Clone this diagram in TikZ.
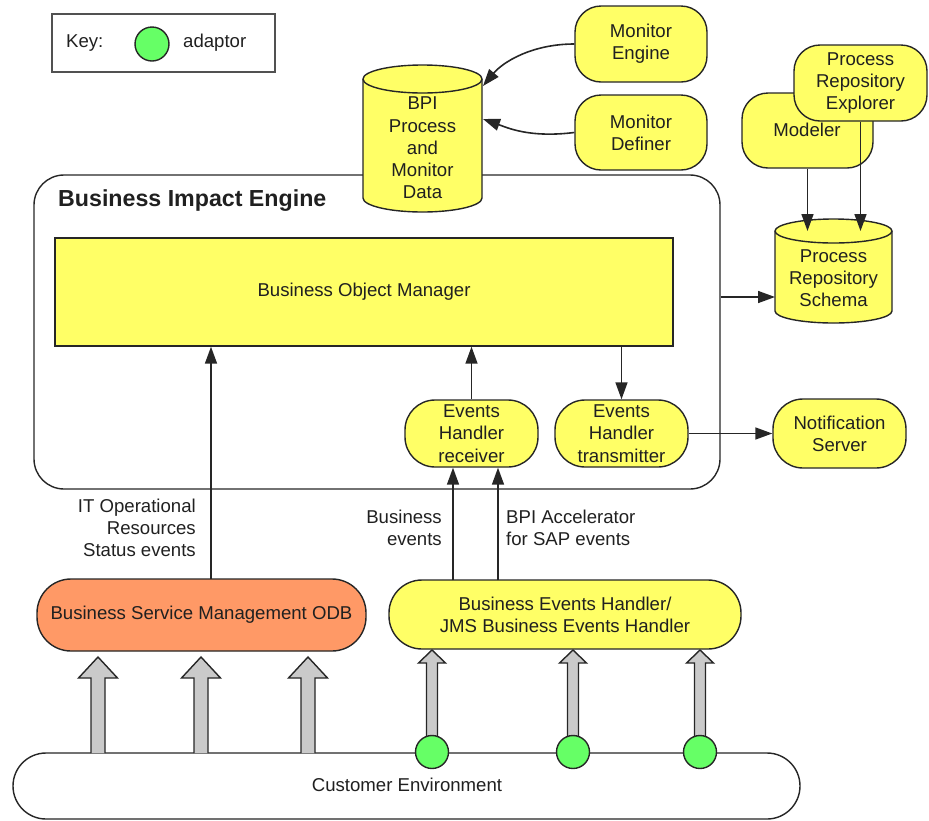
\documentclass[tikz,border=0pt]{standalone}
\usepackage{fontspec}
\setmainfont{Liberation Sans}
\usetikzlibrary{arrows.meta,calc}
\definecolor{yel}{HTML}{FFFF66}
\definecolor{org}{HTML}{FF9966}
\definecolor{grn}{HTML}{66FF66}
\definecolor{gry}{HTML}{CACACA}
\definecolor{ln}{HTML}{262626}
\definecolor{txt}{HTML}{202020}
\newcommand\blkarr[6]{%
  \draw[blk] (#1-#4,#2) -- (#1-#4,#3+#6) -- (#1-#5,#3+#6) -- (#1,#3) -- (#1+#5,#3+#6) -- (#1+#4,#3+#6) -- (#1+#4,#2);}
\begin{document}
\begin{tikzpicture}[x=1pt,y=-1pt,
  every node/.style={font=\fontsize{18.6}{22.3}\selectfont, text=txt, inner sep=0pt, align=center},
  ybox/.style={draw=ln, line width=1.4pt, fill=yel, rounded corners=#1},
  ybox/.default=26pt,
  arr/.style={draw=ln, line width=1.6pt, -{Triangle[length=17pt,width=12pt]}},
  blk/.style={draw=ln, line width=1.4pt, fill=gry},
  cylfill/.style={draw=ln, line width=1.4pt, fill=yel},
  adapt/.style={circle, draw=ln, line width=1.4pt, fill=grn, minimum size=33pt}
]
\useasboundingbox (0,0) rectangle (929,820);

% key
\node[draw=ln!80, line width=1.8pt, minimum width=223pt, minimum height=58pt] (key) at (163.5,43) {};
\node[anchor=west] (keyt) at (66,43) {Key:};
\node[adapt, minimum size=34pt] (keyc) at (152,44) {};
\node[anchor=west] (keya) at (183,43) {adaptor};

% Business Impact Engine container
\node[draw=ln, line width=1.4pt, rounded corners=30pt, minimum width=686pt, minimum height=314pt] (bie) at (377,332) {};
\node[anchor=west, font=\bfseries\fontsize{23.2}{26}\selectfont] (biet) at (58,201) {Business Impact Engine};

% BPI cylinder
\path[cylfill] (363,79) -- (363,198) arc[start angle=180, end angle=0, x radius=59.5, y radius=14]
  -- (482,79) arc[start angle=0, end angle=-180, x radius=59.5, y radius=14] -- cycle;
\draw[draw=ln, line width=1.4pt] (363,79) arc[start angle=180, end angle=0, x radius=59.5, y radius=14];
\node (bpi) at (422.5,148) {BPI\\Process\\and\\Monitor\\Data};
\coordinate (bpiA) at (483,86);
\coordinate (bpiB) at (483,119);

% Monitor nodes
\node[ybox, minimum width=132pt, minimum height=76pt] (me) at (641,44) {Monitor\\Engine};
\node[ybox, minimum width=132pt, minimum height=75pt] (md) at (641,132.5) {Monitor\\Definer};
\draw[arr] (me.west) .. controls (532,44) and (503,62) .. (bpiA);
\draw[arr] (md.west) .. controls (530,138) and (508,128) .. (bpiB);

% Modeler and Explorer
\node[ybox, minimum width=131pt, minimum height=75pt] (mod) at (807.5,130.5) {};
\node (modt) at (807,130) {Modeler};
\node[ybox, minimum width=133pt, minimum height=76pt] (pre) at (860.5,83) {Process\\Repository\\Explorer};

% Schema cylinder
\path[cylfill] (775,231) -- (775,311) arc[start angle=180, end angle=0, x radius=58.5, y radius=12]
  -- (892,231) arc[start angle=0, end angle=-180, x radius=58.5, y radius=12] -- cycle;
\draw[draw=ln, line width=1.4pt] (775,231) arc[start angle=180, end angle=0, x radius=58.5, y radius=12];
\node (sch) at (833.5,278) {Process\\Repository\\Schema};
\coordinate (schA) at (807.5,231);
\coordinate (schB) at (860.5,231);
\coordinate (schW) at (775,297);
\draw[arr] (mod.south) -- (schA);
\draw[arr] (pre.south) -- (schB);
\draw[arr] (schW -| bie.east) -- (schW);

% Business Object Manager
\node[draw=ln, line width=1.4pt, fill=yel, minimum width=618pt, minimum height=108pt] (bom) at (364,292) {Business Object Manager};

% Event handlers
\node[ybox=30pt, minimum width=133pt, minimum height=67pt] (rec) at (471.5,433.5) {Events\\Handler\\receiver};
\node[ybox=30pt, minimum width=133pt, minimum height=67pt] (trn) at (621.5,433.5) {Events\\Handler\\transmitter};
\node[ybox=30pt, minimum width=133pt, minimum height=69pt] (ns) at (839.5,433.5) {Notification\\Server};
\draw[arr] (rec.north) -- (rec.north |- bom.south);
\draw[arr] (trn.north |- bom.south) -- (trn.north);
\draw[arr] (trn.east) -- (ns.west);

% Bottom handlers
\node[draw=ln, line width=1.4pt, fill=org, rounded corners=34pt, minimum width=329pt, minimum height=72pt] (bsm) at (201.5,615) {Business Service Management ODB};
\node[ybox=33pt, minimum width=352pt, minimum height=69pt] (beh) at (565,614.5) {Business Events Handler/\\JMS Business Events Handler};

\coordinate (bsmU) at (211,579);
\draw[arr] (bsmU) -- (bsmU |- bom.south);
\coordinate (behA) at (453,580);
\coordinate (behB) at (498,580);
\draw[arr] (behA) -- (behA |- rec.south);
\draw[arr] (behB) -- (behB |- rec.south);

\node[anchor=east, align=right] (lit) at (196,528) {IT Operational\\Resources\\Status events};
\node[anchor=east, align=right] (lbe) at (442,528) {Business\\events};
\node[anchor=west, align=left] (lsap) at (506,528) {BPI Accelerator\\for SAP events};

% Customer environment
\node[draw=ln, line width=1.4pt, fill=white, rounded corners=33pt, minimum width=787pt, minimum height=66pt] (ce) at (406.5,786) {};
\node (cet) at (407,785) {Customer Environment};

% block arrows
\blkarr{98}{753}{657}{7}{19.5}{21}
\blkarr{201}{753}{657}{7}{19.5}{21}
\blkarr{308}{753}{657}{7}{19.5}{21}
\blkarr{432}{740}{650}{5.5}{13.5}{13}
\blkarr{573}{740}{650}{5.5}{13.5}{13}
\blkarr{700}{740}{650}{5.5}{13.5}{13}

% adaptors
\node[adapt] (ad1) at (432,752) {};
\node[adapt] (ad2) at (573,752) {};
\node[adapt] (ad3) at (700,752) {};
\end{tikzpicture}
\end{document}
